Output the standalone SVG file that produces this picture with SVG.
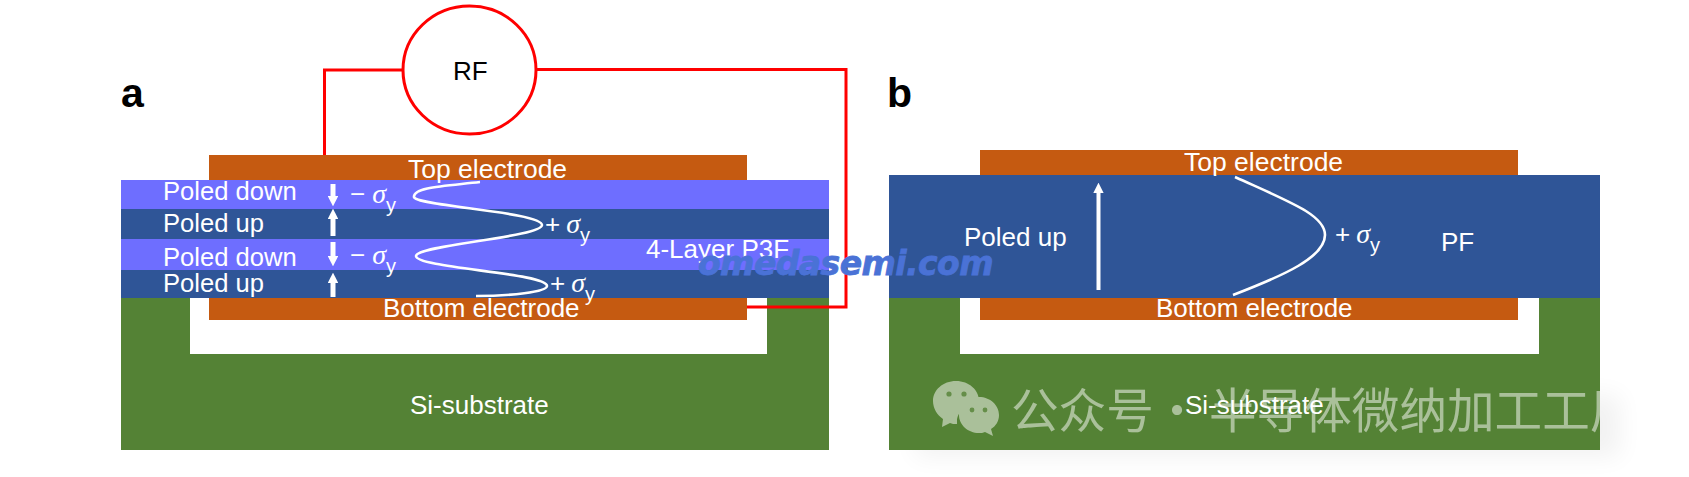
<svg xmlns="http://www.w3.org/2000/svg" width="1689" height="477" viewBox="0 0 1689 477">
<style>
text{font-family:"Liberation Sans",Arial,sans-serif;fill:#fff;font-size:26px}
.e{font-size:26.5px}
.p{font-size:25.6px}
.s{font-family:"Liberation Serif","Times New Roman",serif;font-style:italic;font-size:28px}
.y{font-size:20px}
.blue{fill:#2f5597}.violet{fill:#6e6eff}.cu{fill:#c55a11}.si{fill:#548235}
.wire{fill:none;stroke:#f00;stroke-width:3}
.curve{fill:none;stroke:#fff;stroke-width:2.6}
.arr{fill:none;stroke:#fff;stroke-width:5;marker-end:url(#h)}
.arrb{fill:none;stroke:#fff;stroke-width:4;marker-end:url(#h2)}
.eye{fill:#548235}
.cjk{font-family:'Noto Sans CJK SC',sans-serif;font-size:47.6px}
</style>
<defs>
<marker id="h" viewBox="0 0 10 10" refX="2" refY="5" markerWidth="2.1" markerHeight="2.1" orient="auto"><path d="M0 0L10 5L0 10Z" fill="#fff"/></marker>
<marker id="h2" viewBox="0 0 10 10" refX="2" refY="5" markerWidth="2.6" markerHeight="2.6" orient="auto"><path d="M0 0L10 5L0 10Z" fill="#fff"/></marker>
<filter id="b" x="-20%" y="-60%" width="140%" height="220%"><feGaussianBlur stdDeviation="12"/></filter>
<clipPath id="c"><rect x="889" y="298" width="711" height="152"/></clipPath>
</defs>
<rect width="1689" height="477" fill="#fff"/>
<rect x="915" y="395" width="705" height="62" fill="#000" opacity=".05" filter="url(#b)"/>
<g id="panel-a">
<rect class="si" x="121" y="298" width="708" height="152"/>
<rect x="190" y="298" width="577" height="56" fill="#fff"/>
<rect class="cu" x="209" y="155" width="538" height="26"/>
<rect class="cu" x="209" y="298" width="538" height="22"/>
<rect class="violet" x="121" y="180" width="708" height="29"/>
<rect class="blue" x="121" y="209" width="708" height="30"/>
<rect class="violet" x="121" y="239" width="708" height="31"/>
<rect class="blue" x="121" y="270" width="708" height="28"/>
<text class="e" x="408" y="178">Top electrode</text>
<text x="383" y="317">Bottom electrode</text>
<text class="p" x="163" y="200">Poled down</text>
<text class="p" x="163" y="232">Poled up</text>
<text class="p" x="163" y="266">Poled down</text>
<text class="p" x="163" y="292">Poled up</text>
<text x="646" y="258">4-Layer P3F</text>
<text x="410" y="414">Si-substrate</text>
<text x="350" y="203">−<tspan class="s" dx="7">σ</tspan><tspan class="y" dy="9">y</tspan></text>
<text x="350" y="264">−<tspan class="s" dx="7">σ</tspan><tspan class="y" dy="9">y</tspan></text>
<text x="545" y="233">+<tspan class="s" dx="6">σ</tspan><tspan class="y" dy="9">y</tspan></text>
<text x="550" y="292">+<tspan class="s" dx="6">σ</tspan><tspan class="y" dy="9">y</tspan></text>
<path class="curve" d="M480 182C445 186 413 187 414 197C415 206 542 212 542 225C542 237 417 245 416 256C416 268 547 273 547 286C547 292 510 296 476 296"/>
<path class="arr" d="M333 184V198"/>
<path class="arr" d="M333 236V217"/>
<path class="arr" d="M333 242V258"/>
<path class="arr" d="M333 297V281"/>
</g>
<g id="panel-b">
<rect class="si" x="889" y="298" width="711" height="152"/>
<rect x="960" y="298" width="579" height="56" fill="#fff"/>
<rect class="cu" x="980" y="150" width="538" height="26"/>
<rect class="cu" x="980" y="298" width="538" height="22"/>
<rect class="blue" x="889" y="175" width="711" height="123"/>
<text class="e" x="1184" y="171">Top electrode</text>
<text x="1156" y="317">Bottom electrode</text>
<text x="964" y="246">Poled up</text>
<text x="1441" y="251">PF</text>
<text x="1335" y="243">+<tspan class="s" dx="6">σ</tspan><tspan class="y" dy="9">y</tspan></text>
<path class="curve" d="M1235 177C1290 202 1325 215 1325 235C1325 257 1285 275 1233 295"/>
<path class="arrb" d="M1098.5 290V191"/>
</g>
<g id="connectors">
<path class="wire" d="M324.5 155V70H402"/>
<path class="wire" d="M537 69.5H846V307H747"/>
</g>
<g id="rf">
<ellipse cx="469.5" cy="70" rx="66.5" ry="64" fill="#fff" stroke="#f00" stroke-width="3"/>
<text x="453" y="80" style="fill:#000">RF</text>
</g>
<text x="121" y="107" style="fill:#000;font-size:41px;font-weight:bold">a</text>
<text x="887" y="107" style="fill:#000;font-size:41px;font-weight:bold">b</text>
<g id="watermarks">
<text x="698" y="275" style="font-family:'DejaVu Sans',sans-serif;font-weight:bold;font-style:italic;font-size:33px;fill:#4a72d6;stroke:#4a72d6;stroke-width:.8;letter-spacing:-.55px">omedasemi.com</text>
<g clip-path="url(#c)" opacity=".5" fill="#fff">
<path d="M956 381c13 0 23 9 23 20 0 1 0 2 0 3-11-1-22 7-22 17 0 1 0 2 0 3-3 0-5 0-7-1l-8 4 1-8c-6-4-10-11-10-18 0-11 10-20 23-20z"/>
<path d="M979 397c11 0 20 8 20 18 0 6-3 11-8 14l2 7-8-4c-2 1-4 1-6 1-11 0-20-8-20-18s9-18 20-18z"/>
<text class="cjk" x="1011" y="428">公众号</text>
<text class="cjk" x="1177" y="428" text-anchor="middle">·</text>
<text class="cjk" x="1209" y="428">半导体微纳加工工厂</text>
</g>
<g class="eye" clip-path="url(#c)" opacity=".8">
<circle cx="949" cy="394" r="2.6"/><circle cx="964" cy="394" r="2.6"/>
<circle cx="972" cy="410" r="2.4"/><circle cx="985" cy="410" r="2.4"/>
</g>
</g>
<text x="1185" y="414">Si-substrate</text>
</svg>
